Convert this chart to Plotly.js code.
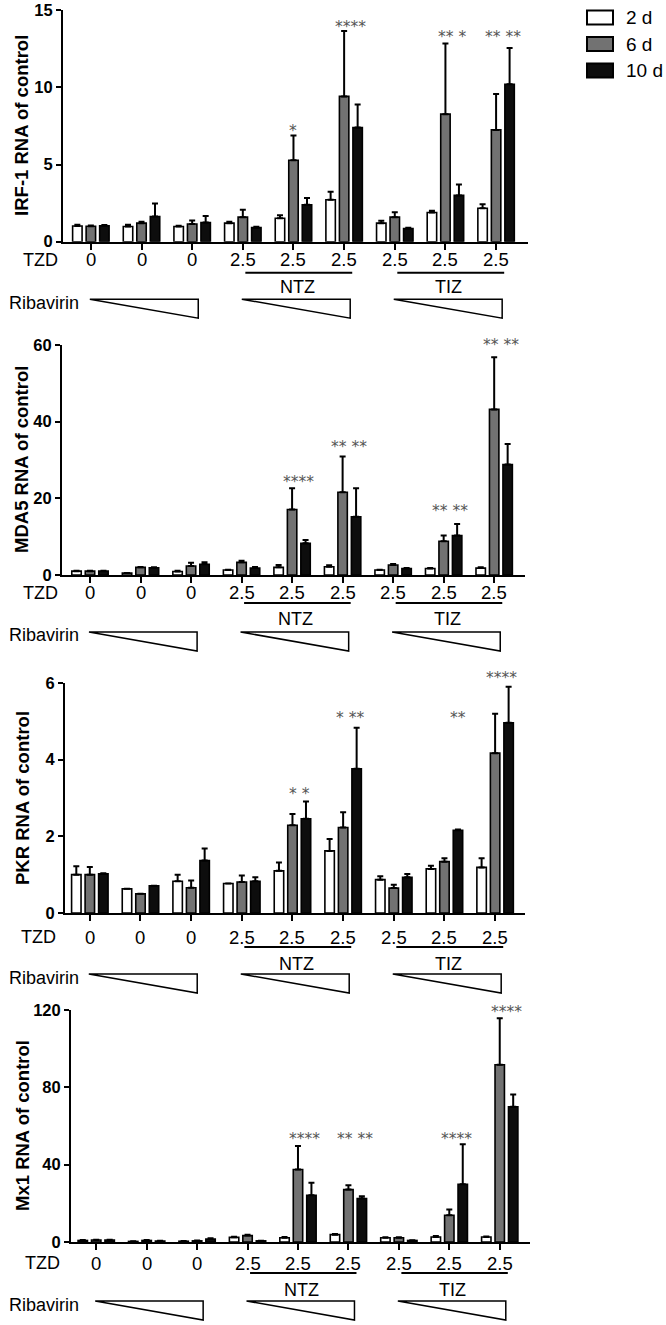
<!DOCTYPE html>
<html><head><meta charset="utf-8">
<script src="https://cdn.plot.ly/plotly-3.0.1.min.js"></script>
<style>html,body{margin:0;padding:0;background:#fff}#chart{width:666px;height:1325px}</style>
</head><body><div id="chart"></div>
<script>
// ---------------- data ----------------
const tzdLabels = ['0','0','0','2.5','2.5','2.5','2.5','2.5','2.5'];
const drug = ['','','','NTZ','NTZ','NTZ','TIZ','TIZ','TIZ'];
const ribavirinStep = [1,2,3,1,2,3,1,2,3];
const seriesNames = ['2 d','6 d','10 d'];
const genes = ['IRF-1','MDA5','PKR','Mx1'];

const irf1_2d      = [1.02,0.98,0.98,1.20,1.52,2.72,1.20,1.89,2.17];
const irf1_2d_err  = [0.08,0.12,0.05,0.10,0.20,0.52,0.15,0.12,0.25];
const irf1_6d      = [1.00,1.20,1.15,1.59,5.28,9.41,1.59,8.26,7.24];
const irf1_6d_err  = [0.05,0.10,0.22,0.48,1.60,4.24,0.32,4.57,2.33];
const irf1_10d     = [1.03,1.63,1.24,0.91,2.39,7.39,0.85,3.00,10.2];
const irf1_10d_err = [0.05,0.85,0.43,0.06,0.44,1.50,0.05,0.70,2.35];

const mda5_2d      = [1.0,0.5,0.9,1.3,2.0,2.17,1.3,1.7,1.8];
const mda5_2d_err  = [0.1,0.05,0.2,0.1,0.6,0.35,0.1,0.15,0.2];
const mda5_6d      = [1.0,2.0,2.35,3.3,17.1,21.6,2.6,8.8,43.2];
const mda5_6d_err  = [0.1,0.1,0.85,0.4,5.5,9.3,0.3,1.5,13.6];
const mda5_10d     = [1.0,1.9,2.8,1.8,8.26,15.2,1.7,10.3,28.8];
const mda5_10d_err = [0.1,0.1,0.5,0.3,0.85,7.4,0.1,3.0,5.4];

const pkr_2d       = [1.00,0.63,0.83,0.77,1.10,1.62,0.87,1.15,1.19];
const pkr_2d_err   = [0.22,0.00,0.17,0.00,0.22,0.31,0.09,0.08,0.24];
const pkr_6d       = [1.00,0.50,0.66,0.81,2.29,2.23,0.65,1.34,4.17];
const pkr_6d_err   = [0.20,0.00,0.19,0.17,0.29,0.40,0.09,0.09,1.03];
const pkr_10d      = [1.02,0.71,1.37,0.83,2.46,3.76,0.93,2.16,4.96];
const pkr_10d_err  = [0.02,0.00,0.31,0.10,0.45,1.07,0.09,0.02,0.94];

const mx1_2d       = [0.8,0.3,0.4,2.4,2.2,3.8,2.2,2.6,2.6];
const mx1_2d_err   = [0.2,0.1,0.1,0.3,0.4,0.4,0.3,0.5,0.3];
const mx1_6d       = [1.0,0.8,0.6,3.3,37.5,27.1,2.2,13.8,91.7];
const mx1_6d_err   = [0.2,0.2,0.2,0.5,12.1,2.3,0.3,3.0,24.0];
const mx1_10d      = [1.0,0.5,1.5,0.6,24.2,22.5,0.8,29.9,69.9];
const mx1_10d_err  = [0.2,0.1,0.4,0.1,6.5,1.2,0.1,20.7,6.4];

// significance marks: group index, text, which bars
const irf1Stars = [[4,'*','6d'],[5,'****','both'],[7,'** *','both'],[8,'** **','both']];
const irf1StarLevel = [7.43,14.16,13.5,13.5];
const mda5Stars = [[4,'****','both'],[5,'** **','both'],[7,'** **','both'],[8,'** **','both']];
const mda5StarLevel = [25.3,34.4,17.7,61.0];
const pkrStars  = [[4,'* *','both'],[5,'* **','both'],[7,'**','10d'],[8,'****','both']];
const pkrStarLevel = [3.21,5.19,5.19,6.24];
const mx1Stars  = [[4,'****','both'],[5,'** **','both'],[7,'****','both'],[8,'****','both']];
const mx1StarLevel = [55.4,55.4,55.4,121];

const yTicks = [[0,5,10,15],[0,20,40,60],[0,2,4,6],[0,40,80,120]];

const panelData = [
  {vals:[irf1_2d,irf1_6d,irf1_10d], errs:[irf1_2d_err,irf1_6d_err,irf1_10d_err], stars:irf1Stars, lv:irf1StarLevel},
  {vals:[mda5_2d,mda5_6d,mda5_10d], errs:[mda5_2d_err,mda5_6d_err,mda5_10d_err], stars:mda5Stars, lv:mda5StarLevel},
  {vals:[pkr_2d,pkr_6d,pkr_10d], errs:[pkr_2d_err,pkr_6d_err,pkr_10d_err], stars:pkrStars, lv:pkrStarLevel},
  {vals:[mx1_2d,mx1_6d,mx1_10d], errs:[mx1_2d_err,mx1_6d_err,mx1_10d_err], stars:mx1Stars, lv:mx1StarLevel}
];

// ---------------- layout (pixel geometry) ----------------
const W = 666, H = 1325;
const FONT = 'Liberation Sans, Arial, sans-serif';
const fills = ['#ffffff','#727272','#0d0d0d'];
const geo = [
  {x:[63,528], y:[10.1,241.7], r:[-0.55,8.63], tzdR:60, tzdDy:18, lineDy:31, drugDy:45, tri:[57.5,76.5], ribDy:61},
  {x:[62,525], y:[345,575],    r:[-0.554,8.61], tzdR:60, tzdDy:18, lineDy:28, drugDy:44, tri:[57,76], ribDy:60},
  {x:[65,525], y:[683,913],    r:[-0.49,8.59], tzdR:58, tzdDy:24, lineDy:34, drugDy:51, tri:[61,80], ribDy:65},
  {x:[71,530], y:[1010,1242],  r:[-0.5,8.6],   tzdR:62, tzdDy:21, lineDy:31, drugDy:48, tri:[59,78], ribDy:63}
];
const py = p => 1 - p / H;
const groups = tzdLabels.map((_, i) => i);

const traces = [];
const layout = {
  width: W, height: H, margin: {l:0, r:0, t:0, b:0},
  paper_bgcolor: '#fff', plot_bgcolor: '#fff',
  barmode: 'group', bargap: 0.2, bargroupgap: 0.3, showlegend: false,
  font: {family: FONT, color: '#000'},
  shapes: [], annotations: []
};

panelData.forEach((pd, i) => {
  const g = geo[i];
  const s = i === 0 ? '' : String(i + 1);
  const xa = 'x' + s, ya = 'y' + s;
  const yMax = yTicks[i][yTicks[i].length - 1];
  const axisPx = g.y[1];
  layout['xaxis' + s] = {
    domain: [g.x[0] / W, g.x[1] / W], range: g.r, anchor: ya,
    showline: true, linecolor: '#000', linewidth: 2,
    ticks: 'outside', ticklen: 6, tickwidth: 2, tickcolor: '#000',
    tickvals: groups, showticklabels: false,
    showgrid: false, zeroline: false, fixedrange: true
  };
  layout['yaxis' + s] = {
    domain: [py(g.y[1]), py(g.y[0])], range: [0, yMax], anchor: xa,
    showline: true, linecolor: '#000', linewidth: 2,
    ticks: 'outside', ticklen: 5, tickwidth: 2, tickcolor: '#000',
    tickvals: yTicks[i],
    tickfont: {family: FONT, size: 16.5, color: '#000', weight: 'bold'},
    showgrid: false, zeroline: false, fixedrange: true
  };
  pd.vals.forEach((v, k) => {
    traces.push({
      type: 'bar', x: groups, y: v, name: seriesNames[k], xaxis: xa, yaxis: ya,
      marker: {color: fills[k], line: {color: '#000', width: 1.6}},
      error_y: {type: 'data', array: pd.errs[k], arrayminus: v.map(() => 0), symmetric: false,
                color: '#000', thickness: 2, width: 3},
      cliponaxis: false, hoverinfo: 'skip'
    });
  });
  // TZD dose row (category labels under each group)
  tzdLabels.forEach((t, j) => {
    layout.annotations.push({xref: xa, yref: 'paper', x: groups[j], y: py(axisPx + g.tzdDy),
      text: t, showarrow: false, xanchor: 'center', yanchor: 'middle',
      font: {family: FONT, size: 18.5, color: '#000'}});
  });
  // y title
  layout.annotations.push({
    xref: 'paper', yref: 'paper', x: 22 / W, y: py((g.y[0] + g.y[1]) / 2),
    text: genes[i] + ' RNA of control', textangle: -90, showarrow: false,
    xanchor: 'center', yanchor: 'middle',
    font: {family: FONT, size: 18.5, weight: 'bold', color: '#000'}
  });
  // TZD label
  layout.annotations.push({
    xref: 'paper', yref: 'paper', x: g.tzdR / W, y: py(axisPx + g.tzdDy),
    text: 'TZD', showarrow: false, xanchor: 'right', yanchor: 'middle',
    font: {family: FONT, size: 18, color: '#000'}
  });
  // Ribavirin label
  layout.annotations.push({
    xref: 'paper', yref: 'paper', x: 7 / W, y: py(axisPx + g.ribDy),
    text: 'Ribavirin', showarrow: false, xanchor: 'left', yanchor: 'middle',
    font: {family: FONT, size: 18, color: '#000'}
  });
  // drug brackets
  [...new Set(drug.filter(d => d))].forEach(d => {
    const a = drug.indexOf(d), b = drug.lastIndexOf(d);
    layout.shapes.push({type: 'line', xref: xa, yref: 'paper',
      x0: a + 0.05, x1: b + 0.16, y0: py(axisPx + g.lineDy), y1: py(axisPx + g.lineDy),
      line: {color: '#000', width: 2}});
    layout.annotations.push({xref: xa, yref: 'paper', x: (a + b) / 2 + 0.07, y: py(axisPx + g.drugDy),
      text: d, showarrow: false, xanchor: 'center', yanchor: 'middle',
      font: {family: FONT, size: 18, color: '#000'}});
  });
  // ribavirin wedges (one per low->high run)
  ribavirinStep.forEach((r, j) => {
    if (r !== 1) return;
    let e = j; while (e + 1 < ribavirinStep.length && ribavirinStep[e + 1] > ribavirinStep[e]) e++;
    const x0 = j - 0.02, x1 = e + 0.12, yt = py(axisPx + g.tri[0]), yb = py(axisPx + g.tri[1]);
    layout.shapes.push({type: 'path', xref: xa, yref: 'paper',
      path: `M${x0},${yt} L${x1},${yt} L${x1},${yb} Z`,
      fillcolor: '#fff', line: {color: '#000', width: 1.5}});
  });
  // significance stars (domain-relative so marks above the axis top still show)
  const off = {'6d': 0, '10d': 0.27, 'both': 0.135};
  pd.stars.forEach((st, j) => {
    layout.annotations.push({xref: xa, yref: ya + ' domain', x: st[0] + off[st[2]], y: pd.lv[j] / yMax,
      text: st[1], showarrow: false, xanchor: 'center', yanchor: 'middle', yshift: -4,
      font: {family: 'DejaVu Sans', size: 15.5, color: '#555555'}});
  });
});

// legend (drawn)
seriesNames.forEach((n, k) => {
  const yc = 17.5 + k * 26.5;
  layout.shapes.push({type: 'rect', xref: 'paper', yref: 'paper',
    x0: 587 / W, x1: 613 / W, y0: py(yc - 7), y1: py(yc + 7),
    fillcolor: fills[k], line: {color: '#000', width: 2}});
  layout.annotations.push({xref: 'paper', yref: 'paper', x: 624 / W, y: py(yc),
    text: n, showarrow: false, xanchor: 'left', yanchor: 'middle',
    font: {family: FONT, size: 19, color: '#000'}});
});

Plotly.newPlot('chart', traces, layout, {staticPlot: true, displayModeBar: false});
</script></body></html>
